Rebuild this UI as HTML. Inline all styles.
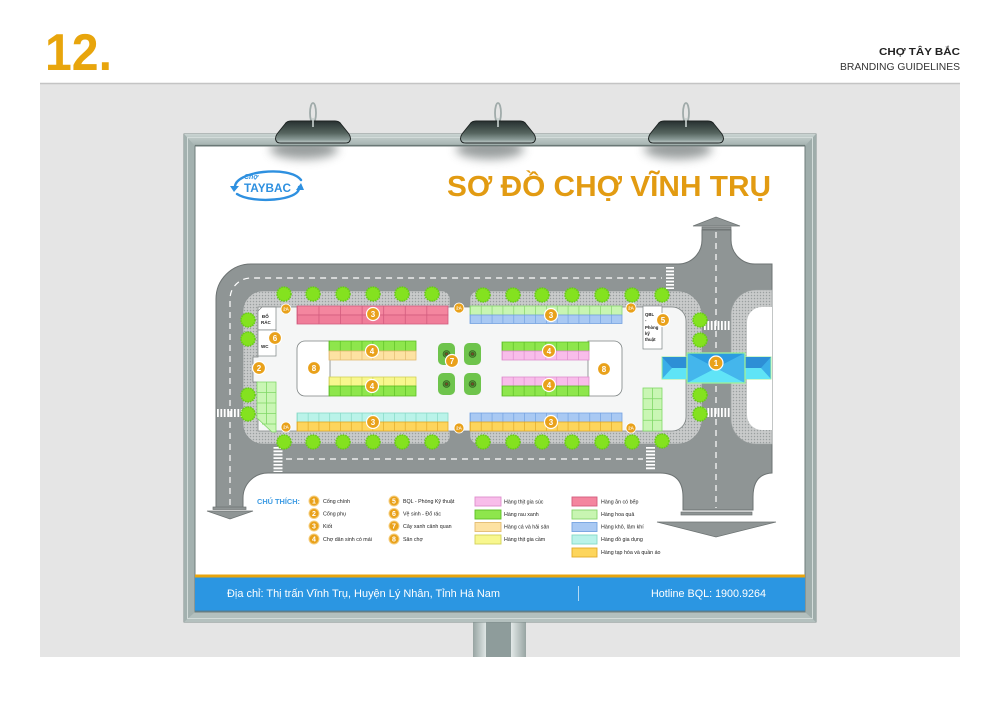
<!DOCTYPE html>
<html><head><meta charset="utf-8"><style>
html,body{margin:0;padding:0;background:#fff;}
svg{display:block;}
text{font-family:"Liberation Sans","DejaVu Sans",sans-serif;}
</style></head><body>
<svg width="1000" height="707" viewBox="0 0 1000 707" xmlns="http://www.w3.org/2000/svg">
<defs>
  <pattern id="dots" width="3" height="3" patternUnits="userSpaceOnUse">
    <rect width="3" height="3" fill="#c9cbcb"/>
    <circle cx="1.5" cy="1.5" r="0.75" fill="#9a9f9f"/>
  </pattern>
  <linearGradient id="lampG" x1="0" y1="0" x2="0" y2="1">
    <stop offset="0" stop-color="#273030"/>
    <stop offset="0.55" stop-color="#56655f"/>
    <stop offset="0.85" stop-color="#8b9b98"/>
    <stop offset="1" stop-color="#c3cfcd"/>
  </linearGradient>
  <linearGradient id="postL" x1="0" y1="0" x2="1" y2="0">
    <stop offset="0" stop-color="#97a4a2"/><stop offset="1" stop-color="#dfe6e5"/>
  </linearGradient>
  <linearGradient id="postR" x1="0" y1="0" x2="1" y2="0">
    <stop offset="0" stop-color="#e3e9e8"/><stop offset="1" stop-color="#97a4a2"/>
  </linearGradient>
  <linearGradient id="frameT" x1="0" y1="0" x2="0" y2="1">
    <stop offset="0" stop-color="#c9d3d1"/><stop offset="1" stop-color="#a3b1af"/>
  </linearGradient>
  <filter id="blur" x="-50%" y="-100%" width="200%" height="300%"><feGaussianBlur stdDeviation="5"/></filter>
  <clipPath id="inner"><rect x="195" y="146" width="610" height="466"/></clipPath>
</defs>

<!-- header -->
<text x="45" y="70" font-size="52" font-weight="bold" fill="#e8a50c" textLength="67" lengthAdjust="spacingAndGlyphs">12.</text>
<text x="879" y="55" font-size="10" font-weight="bold" fill="#222" textLength="81" lengthAdjust="spacingAndGlyphs">CHỢ TÂY BẮC</text>
<text x="840" y="70" font-size="10.5" fill="#333" textLength="120" lengthAdjust="spacingAndGlyphs">BRANDING GUIDELINES</text>

<!-- gray panel -->
<rect x="40" y="83" width="920" height="574" fill="#e5e5e5"/>
<line x1="40" y1="83.5" x2="960" y2="83.5" stroke="#c4c4c4" stroke-width="1.5"/>

<!-- post -->
<rect x="473" y="622" width="13" height="35" fill="url(#postL)"/>
<rect x="486" y="622" width="25" height="35" fill="#8e9c9b"/>
<rect x="511" y="622" width="15" height="35" fill="url(#postR)"/>

<!-- frame -->
<rect x="184" y="134" width="632" height="488" fill="#a9b7b5" stroke="#7f8d8b" stroke-width="1"/>
<polygon points="184,134 816,134 805,146 195,146" fill="url(#frameT)"/>
<polygon points="184,622 816,622 805,612 195,612" fill="#b4c0be"/>
<polygon points="184,134 195,146 195,612 184,622" fill="#a3b1af"/>
<polygon points="816,134 805,146 805,612 816,622" fill="#9fadab"/>
<rect x="187.5" y="137.5" width="625" height="481" fill="none" stroke="#d3dcda" stroke-width="1"/>
<rect x="195" y="146" width="610" height="466" fill="#ffffff" stroke="#6f7d7b" stroke-width="1"/>
<line x1="195" y1="145.5" x2="805" y2="145.5" stroke="#6a7876" stroke-width="1.2"/>

<!-- lamp shadows -->
<g clip-path="url(#inner)">
  <ellipse cx="304" cy="149" rx="34" ry="10" fill="#7f8585" filter="url(#blur)" opacity="0.8"/>
  <ellipse cx="490" cy="149" rx="34" ry="10" fill="#7f8585" filter="url(#blur)" opacity="0.8"/>
  <ellipse cx="678" cy="149" rx="34" ry="10" fill="#7f8585" filter="url(#blur)" opacity="0.8"/>
</g>

<!-- lamps -->
<g id="lamps">
  <g transform="translate(313,0)">
    <ellipse cx="0" cy="113" rx="3" ry="10" fill="none" stroke="#a0abaa" stroke-width="1.8"/>
    <path d="M -22,121 L 22,121 Q 26,121 28,124 L 36,134 Q 39,139 36,142 Q 35,143 32,143 L -32,143 Q -35,143 -36,142 Q -39,139 -36,134 L -28,124 Q -26,121 -22,121 Z" fill="url(#lampG)" stroke="#1d2322" stroke-width="0.9"/>
    <line x1="0" y1="118" x2="0" y2="127" stroke="#c9d2d0" stroke-width="1.6"/>
  </g>
  <g transform="translate(498,0)">
    <ellipse cx="0" cy="113" rx="3" ry="10" fill="none" stroke="#a0abaa" stroke-width="1.8"/>
    <path d="M -22,121 L 22,121 Q 26,121 28,124 L 36,134 Q 39,139 36,142 Q 35,143 32,143 L -32,143 Q -35,143 -36,142 Q -39,139 -36,134 L -28,124 Q -26,121 -22,121 Z" fill="url(#lampG)" stroke="#1d2322" stroke-width="0.9"/>
    <line x1="0" y1="118" x2="0" y2="127" stroke="#c9d2d0" stroke-width="1.6"/>
  </g>
  <g transform="translate(686,0)">
    <ellipse cx="0" cy="113" rx="3" ry="10" fill="none" stroke="#a0abaa" stroke-width="1.8"/>
    <path d="M -22,121 L 22,121 Q 26,121 28,124 L 36,134 Q 39,139 36,142 Q 35,143 32,143 L -32,143 Q -35,143 -36,142 Q -39,139 -36,134 L -28,124 Q -26,121 -22,121 Z" fill="url(#lampG)" stroke="#1d2322" stroke-width="0.9"/>
    <line x1="0" y1="118" x2="0" y2="127" stroke="#c9d2d0" stroke-width="1.6"/>
  </g>
</g>

<!-- logo -->
<g fill="none" stroke="#2e90e0" stroke-linecap="round">
  <path d="M 235,188 C 233,171 290,165 301,180" stroke-width="2.4"/>
  <path d="M 299,187 C 301,201 252,204 237,194" stroke-width="2.4"/>
</g>
<polygon points="230,186 239,186 234,192" fill="#2e90e0"/>
<polygon points="296,190 304,190 301,183" fill="#2e90e0"/>
<text x="244" y="179" font-size="7" font-weight="bold" font-style="italic" fill="#2e90e0">Chợ</text>
<text x="244" y="192" font-size="12" font-weight="bold" fill="#2e90e0" textLength="47" lengthAdjust="spacingAndGlyphs">TAYBAC</text>

<!-- title -->
<text x="447" y="196" font-size="29" font-weight="bold" fill="#e29b12" textLength="324" lengthAdjust="spacingAndGlyphs">SƠ ĐỒ CHỢ VĨNH TRỤ</text>

<!-- ================= MAP ================= -->
<path d="M 216,299 A 35,35 0 0 1 251,264 L 678,264 A 24,24 0 0 0 702,240 L 702,230 L 731,230 L 731,240 A 24,24 0 0 0 755,264 L 772,264 L 772,473 Q 753,474 753,497 L 753,510 L 683,510 L 683,497 Q 683,473 660,473 L 268,473 A 25,25 0 0 0 243,498 L 243,508 L 216,508 Z" fill="#8f9595" stroke="#6d7373" stroke-width="1"/>

<rect x="702" y="227" width="29" height="2.5" fill="#8f9595" stroke="#6d7373" stroke-width="0.7"/>
<polygon points="693,226 740,226 716,217" fill="#8f9595" stroke="#6d7373" stroke-width="0.7"/>
<rect x="681" y="512" width="71" height="3" fill="#8f9595" stroke="#6d7373" stroke-width="0.7"/>
<polygon points="657,522 776,522 716,537" fill="#8f9595" stroke="#6d7373" stroke-width="0.7"/>
<rect x="213" y="507" width="33" height="2.5" fill="#8f9595" stroke="#6d7373" stroke-width="0.7"/>
<polygon points="207,511 253,511 230,519" fill="#8f9595" stroke="#6d7373" stroke-width="0.7"/>

<g fill="none" stroke="#ffffff" stroke-width="1.2" stroke-dasharray="6 5">
  <path d="M 230,505 L 230,299 A 21,21 0 0 1 251,278 L 662,278"/>
  <path d="M 286,459 L 643,459"/>
  <path d="M 716,232 L 716,508"/>
</g>

<g stroke="#ffffff" stroke-dasharray="1.8 1.6" fill="none">
  <line x1="704" y1="325.5" x2="731" y2="325.5" stroke-width="9"/>
  <line x1="704" y1="412.5" x2="731" y2="412.5" stroke-width="9"/>
  <line x1="217" y1="413" x2="242" y2="413" stroke-width="8"/>
  <line x1="670" y1="267" x2="670" y2="289" stroke-width="8"/>
  <line x1="278" y1="447" x2="278" y2="472" stroke-width="9"/>
  <line x1="650.5" y1="447" x2="650.5" y2="470" stroke-width="9"/>
</g>

<path d="M 772,290 L 756,290 A 25,25 0 0 0 731,315 L 731,419 A 25,25 0 0 0 756,444 L 772,444 Z" fill="url(#dots)" stroke="#9a9f9f" stroke-width="0.6"/>
<path d="M 772,307 L 762,307 A 15,15 0 0 0 747,322 L 747,415 A 15,15 0 0 0 762,430 L 772,430 Z" fill="#ffffff"/>

<path d="M 263,291 L 442,291 A 8,8 0 0 1 450,299 L 450,436 A 8,8 0 0 1 442,444 L 263,444 A 20,20 0 0 1 243,424 L 243,311 A 20,20 0 0 1 263,291 Z" fill="url(#dots)" stroke="#8c9292" stroke-width="0.6"/>
<path d="M 478,291 L 677,291 A 25,25 0 0 1 702,316 L 702,419 A 25,25 0 0 1 677,444 L 478,444 A 8,8 0 0 1 470,436 L 470,299 A 8,8 0 0 1 478,291 Z" fill="url(#dots)" stroke="#8c9292" stroke-width="0.6"/>

<path d="M 258,307 L 672,307 A 14,14 0 0 1 686,321 L 686,417 A 14,14 0 0 1 672,431 L 258,431 L 258,382 L 253,382 L 253,357 L 258,357 Z" fill="#f5f6f6" stroke="#7d8383" stroke-width="0.8"/>

<rect x="297" y="306" width="151" height="9" fill="#f4869f" stroke="#d35c7e" stroke-width="0.8"/>
<rect x="297" y="315" width="151" height="9" fill="#f07d99" stroke="#d35c7e" stroke-width="0.8"/>
<line x1="297" y1="315" x2="448" y2="315" stroke="#d35c7e" stroke-width="18" stroke-dasharray="0.8 20.77"/>

<rect x="470" y="306" width="152" height="9" fill="#c8f5b2" stroke="#86d46c" stroke-width="0.8"/>
<line x1="470" y1="310.5" x2="622" y2="310.5" stroke="#86d46c" stroke-width="9" stroke-dasharray="0.7 10.157"/>
<rect x="470" y="315" width="152" height="8.5" fill="#a9c9f3" stroke="#74a2e0" stroke-width="0.8"/>
<line x1="470" y1="319.25" x2="622" y2="319.25" stroke="#74a2e0" stroke-width="8.5" stroke-dasharray="0.7 10.157"/>

<rect x="297" y="413" width="151" height="9" fill="#baf3e9" stroke="#86d9c6" stroke-width="0.8"/>
<line x1="297" y1="417.5" x2="448" y2="417.5" stroke="#86d9c6" stroke-width="9" stroke-dasharray="0.7 10.086"/>
<rect x="297" y="422" width="151" height="9" fill="#fdd55c" stroke="#e2aa28" stroke-width="0.8"/>
<line x1="297" y1="426.5" x2="448" y2="426.5" stroke="#e2aa28" stroke-width="9" stroke-dasharray="0.7 10.086"/>

<rect x="470" y="413" width="152" height="9" fill="#a9c9f3" stroke="#74a2e0" stroke-width="0.8"/>
<line x1="470" y1="417.5" x2="622" y2="417.5" stroke="#74a2e0" stroke-width="9" stroke-dasharray="0.7 10.157"/>
<rect x="470" y="422" width="152" height="9" fill="#fdd55c" stroke="#e2aa28" stroke-width="0.8"/>
<line x1="470" y1="426.5" x2="622" y2="426.5" stroke="#e2aa28" stroke-width="9" stroke-dasharray="0.7 10.157"/>

<path d="M 305,341 L 330,341 L 330,396 L 305,396 A 8,8 0 0 1 297,388 L 297,349 A 8,8 0 0 1 305,341 Z" fill="#ffffff" stroke="#7d8383" stroke-width="0.8"/>
<path d="M 588,341 L 614,341 A 8,8 0 0 1 622,349 L 622,388 A 8,8 0 0 1 614,396 L 588,396 Z" fill="#ffffff" stroke="#7d8383" stroke-width="0.8"/>

<rect x="329" y="341" width="87" height="10" fill="#8ee64c" stroke="#5cbf26" stroke-width="0.8"/>
<line x1="329" y1="346" x2="416" y2="346" stroke="#5cbf26" stroke-width="10" stroke-dasharray="0.7 10.175"/>
<rect x="329" y="351" width="87" height="9" fill="#fde2a2" stroke="#e3bb70" stroke-width="0.8"/>
<line x1="329" y1="355.5" x2="416" y2="355.5" stroke="#e3bb70" stroke-width="9" stroke-dasharray="0.7 10.175"/>
<rect x="329" y="377" width="87" height="9" fill="#f8f78e" stroke="#d2d058" stroke-width="0.8"/>
<line x1="329" y1="381.5" x2="416" y2="381.5" stroke="#d2d058" stroke-width="9" stroke-dasharray="0.7 10.175"/>
<rect x="329" y="386" width="87" height="10" fill="#8ee64c" stroke="#5cbf26" stroke-width="0.8"/>
<line x1="329" y1="391" x2="416" y2="391" stroke="#5cbf26" stroke-width="10" stroke-dasharray="0.7 10.175"/>
<rect x="502" y="342" width="87" height="9" fill="#8ee64c" stroke="#5cbf26" stroke-width="0.8"/>
<line x1="502" y1="346.5" x2="589" y2="346.5" stroke="#5cbf26" stroke-width="9" stroke-dasharray="0.7 10.175"/>
<rect x="502" y="351" width="87" height="9" fill="#f8bdea" stroke="#de8ecd" stroke-width="0.8"/>
<line x1="502" y1="355.5" x2="589" y2="355.5" stroke="#de8ecd" stroke-width="9" stroke-dasharray="0.7 10.175"/>
<rect x="502" y="377" width="87" height="9" fill="#f8bdea" stroke="#de8ecd" stroke-width="0.8"/>
<line x1="502" y1="381.5" x2="589" y2="381.5" stroke="#de8ecd" stroke-width="9" stroke-dasharray="0.7 10.175"/>
<rect x="502" y="386" width="87" height="10" fill="#8ee64c" stroke="#5cbf26" stroke-width="0.8"/>
<line x1="502" y1="391" x2="589" y2="391" stroke="#5cbf26" stroke-width="10" stroke-dasharray="0.7 10.175"/>

<rect x="438" y="343" width="17" height="22" rx="5" fill="#6ec44c"/>
<rect x="464" y="343" width="17" height="22" rx="5" fill="#6ec44c"/>
<rect x="438" y="373" width="17" height="22" rx="5" fill="#6ec44c"/>
<rect x="464" y="373" width="17" height="22" rx="5" fill="#6ec44c"/>
<g stroke="#2f5a1f" stroke-width="0.6">
  <circle cx="446.5" cy="354" r="3.5" fill="#4f8f33"/><circle cx="446.5" cy="354" r="1.5" fill="#7b4b28"/>
  <circle cx="472.5" cy="354" r="3.5" fill="#4f8f33"/><circle cx="472.5" cy="354" r="1.5" fill="#7b4b28"/>
  <circle cx="446.5" cy="384" r="3.5" fill="#4f8f33"/><circle cx="446.5" cy="384" r="1.5" fill="#7b4b28"/>
  <circle cx="472.5" cy="384" r="3.5" fill="#4f8f33"/><circle cx="472.5" cy="384" r="1.5" fill="#7b4b28"/>
</g>

<path d="M 262,307 L 276,307 L 276,330 L 258,330 L 258,311 Z" fill="#ffffff" stroke="#7d8383" stroke-width="0.7"/>
<rect x="258" y="330" width="18" height="26" fill="#ffffff" stroke="#7d8383" stroke-width="0.7"/>
<text x="262" y="318" font-size="4.5" font-weight="bold" fill="#222">ĐỔ</text>
<text x="261" y="324" font-size="4.5" font-weight="bold" fill="#222">RÁC</text>
<text x="261" y="348" font-size="4.5" font-weight="bold" fill="#222">WC</text>

<rect x="643" y="306" width="19" height="43" fill="#ffffff" stroke="#7d8383" stroke-width="0.7"/>
<g font-size="4.3" font-weight="bold" fill="#222">
  <text x="645" y="316">QBL</text>
  <text x="645" y="322">-</text>
  <text x="645" y="329">Phòng</text>
  <text x="645" y="335">kỹ</text>
  <text x="645" y="341">thuật</text>
</g>

<polygon points="257,382 276,382 276,432 272,432 257,418" fill="#c9f6b4" stroke="#7fd766" stroke-width="0.8"/>
<g stroke="#7fd766" stroke-width="0.8">
  <line x1="266.5" y1="382" x2="266.5" y2="424"/>
  <line x1="257" y1="392.5" x2="276" y2="392.5"/>
  <line x1="257" y1="403" x2="276" y2="403"/>
  <line x1="257" y1="413.5" x2="276" y2="413.5"/>
  <line x1="262" y1="424" x2="276" y2="424"/>
</g>
<rect x="643" y="388" width="19" height="43" fill="#c9f6b4" stroke="#7fd766" stroke-width="0.8"/>
<g stroke="#7fd766" stroke-width="0.8">
  <line x1="652.5" y1="388" x2="652.5" y2="431"/>
  <line x1="643" y1="398.75" x2="662" y2="398.75"/>
  <line x1="643" y1="409.5" x2="662" y2="409.5"/>
  <line x1="643" y1="420.25" x2="662" y2="420.25"/>
</g>

<g fill="#84e21f" stroke="#66cc16" stroke-width="1.6" stroke-dasharray="1.5 1">
  <circle cx="284" cy="294" r="7"/><circle cx="313" cy="294" r="7"/><circle cx="343" cy="294" r="7"/>
  <circle cx="373" cy="294" r="7"/><circle cx="402" cy="294" r="7"/><circle cx="432" cy="294" r="7"/>
  <circle cx="483" cy="295" r="7"/><circle cx="513" cy="295" r="7"/><circle cx="542" cy="295" r="7"/>
  <circle cx="572" cy="295" r="7"/><circle cx="602" cy="295" r="7"/><circle cx="632" cy="295" r="7"/><circle cx="662" cy="295" r="7"/>
  <circle cx="284" cy="442" r="7"/><circle cx="313" cy="442" r="7"/><circle cx="343" cy="442" r="7"/>
  <circle cx="373" cy="442" r="7"/><circle cx="402" cy="442" r="7"/><circle cx="432" cy="442" r="7"/>
  <circle cx="483" cy="442" r="7"/><circle cx="513" cy="442" r="7"/><circle cx="542" cy="442" r="7"/>
  <circle cx="572" cy="442" r="7"/><circle cx="602" cy="442" r="7"/><circle cx="632" cy="442" r="7"/><circle cx="662" cy="441" r="7"/>
  <circle cx="248" cy="320" r="7"/><circle cx="248" cy="339" r="7"/><circle cx="248" cy="395" r="7"/><circle cx="248" cy="414" r="7"/>
  <circle cx="700" cy="320" r="7"/><circle cx="700" cy="340" r="7"/><circle cx="700" cy="395" r="7"/><circle cx="700" cy="414" r="7"/>
</g>

<g stroke="#9ff09a" stroke-width="1">
  <rect x="662" y="357" width="25" height="22" fill="#3aaee8"/>
  <rect x="745" y="357" width="26" height="22" fill="#3aaee8"/>
</g>
<polygon points="662,357 687,357 687,368 672,368" fill="#2d8fd6"/>
<polygon points="662,379 687,379 687,368 672,368" fill="#5fe4f6"/>
<polygon points="771,357 745,357 745,368 761,368" fill="#2d8fd6"/>
<polygon points="771,379 745,379 745,368 761,368" fill="#5fe4f6"/>
<rect x="687" y="353" width="58" height="30" fill="#3db5ec"/>
<polygon points="687,353 745,353 716,368" fill="#2c9be0"/>
<polygon points="687,383 745,383 716,368" fill="#60e4f7"/>
<polygon points="687,353 716,368 687,383" fill="#44b6ec"/>
<polygon points="745,353 716,368 745,383" fill="#44b6ec"/>
<rect x="687" y="353" width="58" height="30" fill="none" stroke="#9ff09a" stroke-width="1.3"/>

<g fill="#e9a11a" stroke="#ffffff" stroke-width="1.2">
  <circle cx="373" cy="314" r="6.5"/><circle cx="551" cy="315" r="6.5"/>
  <circle cx="373" cy="422" r="6.5"/><circle cx="551" cy="422" r="6.5"/>
  <circle cx="372" cy="351" r="6.5"/><circle cx="372" cy="386" r="6.5"/>
  <circle cx="549" cy="351" r="6.5"/><circle cx="549" cy="385" r="6.5"/>
  <circle cx="314" cy="368" r="6.5"/><circle cx="604" cy="369" r="6.5"/>
  <circle cx="452" cy="361" r="6.5"/><circle cx="275" cy="338" r="6.5"/>
  <circle cx="259" cy="368" r="6.5"/><circle cx="663" cy="320" r="6.5"/>
  <circle cx="716" cy="363" r="7"/>
</g>
<g font-size="8" font-weight="bold" fill="#ffffff" text-anchor="middle">
  <text x="373" y="317">3</text><text x="551" y="318">3</text>
  <text x="373" y="425">3</text><text x="551" y="425">3</text>
  <text x="372" y="354">4</text><text x="372" y="389">4</text>
  <text x="549" y="354">4</text><text x="549" y="388">4</text>
  <text x="314" y="371">8</text><text x="604" y="372">8</text>
  <text x="452" y="364">7</text><text x="275" y="341">6</text>
  <text x="259" y="371">2</text><text x="663" y="323">5</text>
  <text x="716" y="366">1</text>
</g>
<g fill="#e9a11a" stroke="#ffffff" stroke-width="0.8">
  <circle cx="286" cy="309" r="5"/><circle cx="459" cy="308" r="5"/><circle cx="631" cy="308" r="5"/>
  <circle cx="286" cy="427" r="5"/><circle cx="459" cy="428" r="5"/><circle cx="631" cy="428" r="5"/>
</g>
<g font-size="4.5" font-weight="bold" fill="#ffffff" text-anchor="middle">
  <text x="286" y="310.7">2A</text><text x="459" y="309.7">2A</text><text x="631" y="309.7">2A</text>
  <text x="286" y="428.7">2A</text><text x="459" y="429.7">2A</text><text x="631" y="429.7">2A</text>
</g>

<!-- ================= LEGEND ================= -->
<text x="257" y="504" font-size="7.5" font-weight="bold" fill="#3d9be3" textLength="43" lengthAdjust="spacingAndGlyphs">CHÚ THÍCH:</text>
<g fill="#e9a11a" stroke="#f6cf80" stroke-width="1">
  <circle cx="314" cy="501" r="5"/><circle cx="314" cy="513.5" r="5"/><circle cx="314" cy="526" r="5"/><circle cx="314" cy="539" r="5"/>
  <circle cx="394" cy="501" r="5"/><circle cx="394" cy="513.5" r="5"/><circle cx="394" cy="526" r="5"/><circle cx="394" cy="539" r="5"/>
</g>
<g font-size="7" font-weight="bold" fill="#ffffff" text-anchor="middle">
  <text x="314" y="503.5">1</text><text x="314" y="516">2</text><text x="314" y="528.5">3</text><text x="314" y="541.5">4</text>
  <text x="394" y="503.5">5</text><text x="394" y="516">6</text><text x="394" y="528.5">7</text><text x="394" y="541.5">8</text>
</g>
<g font-size="5.3" fill="#222">
  <text x="323" y="503">Cổng chính</text>
  <text x="323" y="515.5">Cổng phụ</text>
  <text x="323" y="528">Kiốt</text>
  <text x="323" y="541">Chợ dân sinh có mái</text>
  <text x="403" y="503">BQL - Phòng Kỹ thuật</text>
  <text x="403" y="515.5">Vệ sinh - Đổ rác</text>
  <text x="403" y="528">Cây  xanh cảnh quan</text>
  <text x="403" y="541">Sân chợ</text>
  <text x="504" y="503.5">Hàng thịt gia súc</text>
  <text x="504" y="516">Hàng rau xanh</text>
  <text x="504" y="528.5">Hàng cá và hải sản</text>
  <text x="504" y="541">Hàng thịt gia cầm</text>
  <text x="601" y="503.5">Hàng ăn có bếp</text>
  <text x="601" y="516">Hàng hoa quả</text>
  <text x="601" y="528.5">Hàng khô, lâm khí</text>
  <text x="601" y="541">Hàng đồ gia dụng</text>
  <text x="601" y="554">Hàng tạp hóa và quần áo</text>
</g>
<g stroke-width="0.9">
  <rect x="475" y="497" width="26" height="9" fill="#f8bdea" stroke="#de8ecd"/>
  <rect x="475" y="510" width="26" height="9" fill="#8ee64c" stroke="#5cbf26"/>
  <rect x="475" y="522.5" width="26" height="9" fill="#fde2a2" stroke="#e3bb70"/>
  <rect x="475" y="535" width="26" height="9" fill="#f8f78e" stroke="#d2d058"/>
  <rect x="572" y="497" width="25" height="9" fill="#f4869f" stroke="#d35c7e"/>
  <rect x="572" y="510" width="25" height="9" fill="#c8f5b2" stroke="#86d46c"/>
  <rect x="572" y="522.5" width="25" height="9" fill="#a9c9f3" stroke="#74a2e0"/>
  <rect x="572" y="535" width="25" height="9" fill="#baf3e9" stroke="#86d9c6"/>
  <rect x="572" y="548" width="25" height="9" fill="#fdd55c" stroke="#e2aa28"/>
</g>

<!-- ================= FOOTER ================= -->
<rect x="195" y="574.5" width="610" height="3" fill="#e8a50f"/>
<rect x="195" y="577.5" width="610" height="34" fill="#2b96e2"/>
<line x1="195" y1="611" x2="805" y2="611" stroke="#4f7f9a" stroke-width="1"/>
<text x="227" y="597" font-size="11" fill="#ffffff" textLength="273" lengthAdjust="spacingAndGlyphs">Địa chỉ: Thị trấn Vĩnh Trụ, Huyện Lý Nhân, Tỉnh Hà Nam</text>
<line x1="578.5" y1="586" x2="578.5" y2="601" stroke="#ffffff" stroke-width="0.8" opacity="0.8"/>
<text x="651" y="597" font-size="11" fill="#ffffff" textLength="115" lengthAdjust="spacingAndGlyphs">Hotline BQL: 1900.9264</text>
</svg>
</body></html>
